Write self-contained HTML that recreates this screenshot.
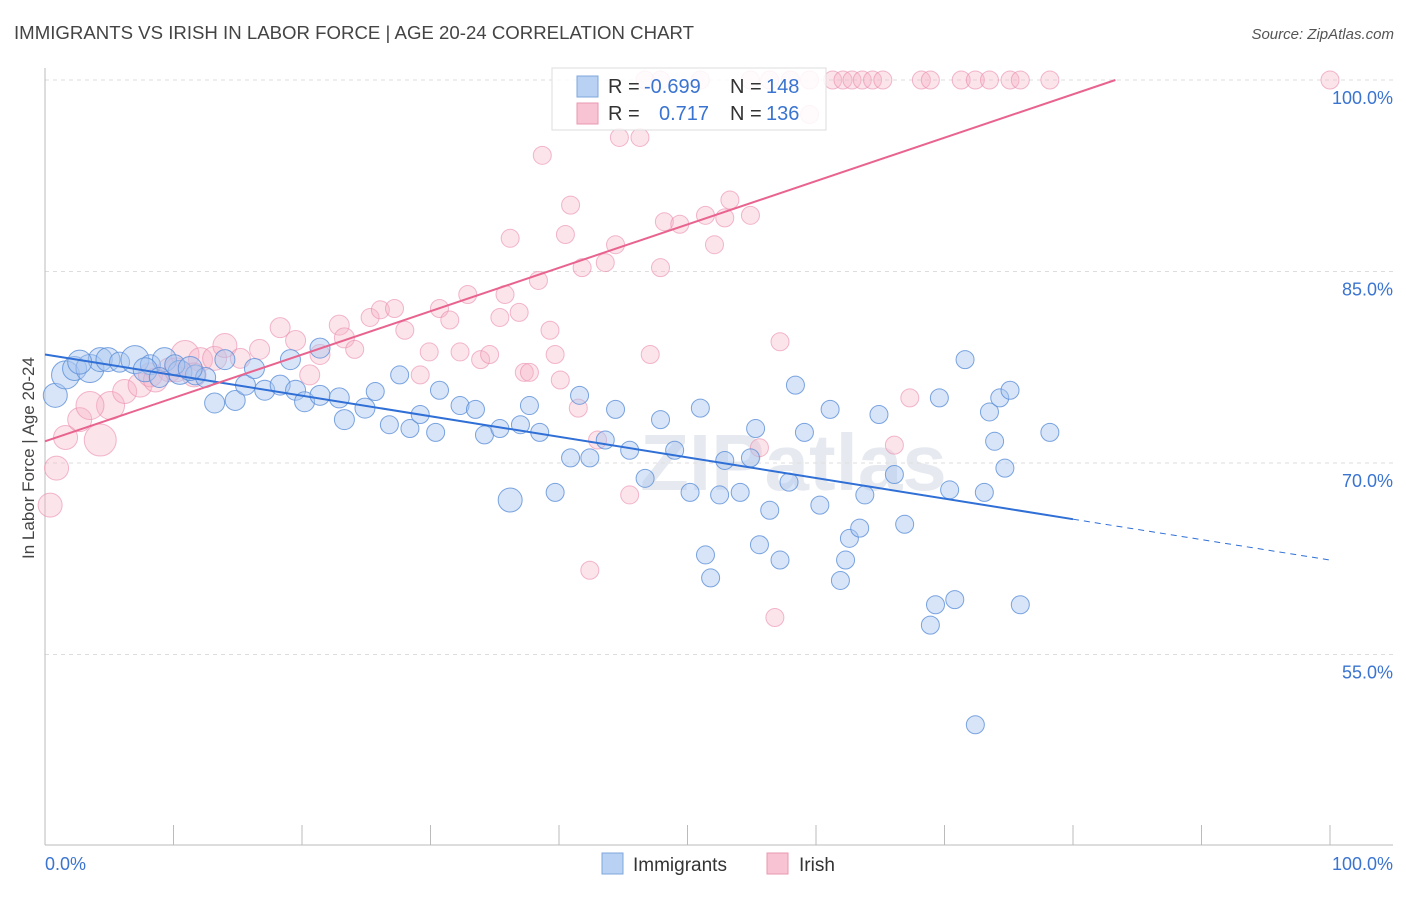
<!DOCTYPE html>
<html><head><meta charset="utf-8"><style>
body{margin:0;background:#fff;font-family:"Liberation Sans",sans-serif}
</style></head><body>
<svg id="chart" width="1406" height="892" xmlns="http://www.w3.org/2000/svg">
<text x="14" y="39" font-size="18.5" fill="#444" textLength="680" lengthAdjust="spacingAndGlyphs">IMMIGRANTS VS IRISH IN LABOR FORCE | AGE 20-24 CORRELATION CHART</text>
<text x="1394" y="39" font-size="15" fill="#555" font-style="italic" text-anchor="end">Source: ZipAtlas.com</text>
<text x="34" y="458" font-size="17" fill="#444" text-anchor="middle" transform="rotate(-90 34 458)">In Labor Force | Age 20-24</text>
<text x="640" y="490" font-size="80" fill="#e6eaf0" font-weight="bold">ZIPatlas</text>
<g id="grid"></g><g id="pts"></g><g id="lines"></g>
<g>
<rect x="552" y="68" width="274" height="62" fill="#fff" fill-opacity="0.85" stroke="#ddd"/>
<rect x="577" y="76" width="21" height="21" fill="#b9d1f3" stroke="#7fa6dd"/>
<rect x="577" y="103" width="21" height="21" fill="#f8c4d3" stroke="#ea98b2"/>
<text x="608" y="93" font-size="20" fill="#333">R =</text>
<text x="644" y="93" font-size="20" fill="#3a74d0">-0.699</text>
<text x="730" y="93" font-size="20" fill="#333">N =</text>
<text x="766" y="93" font-size="20" fill="#3a74d0">148</text>
<text x="608" y="120" font-size="20" fill="#333">R =</text>
<text x="659" y="120" font-size="20" fill="#3a74d0">0.717</text>
<text x="730" y="120" font-size="20" fill="#333">N =</text>
<text x="766" y="120" font-size="20" fill="#3a74d0">136</text>
</g>
<g>
<rect x="602" y="853" width="21" height="21" fill="#b9d1f3" stroke="#7fa6dd"/>
<text x="633" y="871" font-size="19" fill="#333">Immigrants</text>
<rect x="767" y="853" width="21" height="21" fill="#f8c4d3" stroke="#ea98b2"/>
<text x="799" y="871" font-size="19" fill="#333">Irish</text>
</g>
</svg>
<script>
const yTicks=[100,85,70,55];
const xTickLabels=["0.0%","100.0%"];
const blueX=[0.8,1.6,2.3,3.5,4.3,4.9,5.8,7.0,8.2,9.3,10.5,11.7,12.5,13.2,14.8,15.6,17.1,18.3,19.5,20.2,21.4,22.9,23.3,24.9,25.7,26.8,27.6,28.4,29.2,30.4,30.7,32.3,33.5,34.2,35.4,36.2,37.0,37.7,38.5,39.7,40.9,41.6,42.4,43.6,44.4,45.5,46.7,47.9,49.0,50.2,51.0,51.4,51.8,52.5,52.9,54.1,54.9,55.3,55.6,56.4,57.2,57.9,58.4,59.1,60.3,61.1,61.9,62.3,62.6,63.4,63.8,64.9,66.1,66.9,68.9,69.3,69.6,70.4,70.8,71.6,72.4,73.1,73.5,73.9,74.3,74.7,75.1,75.9,78.2,7.8,8.9,10.1,11.3,14.0,16.3,19.1,21.4,2.7];
const blueY=[75.3,76.9,77.4,77.4,78.1,78.1,77.9,78.1,77.7,78.1,77.1,76.9,76.7,74.7,74.9,76.1,75.7,76.1,75.7,74.8,75.3,75.1,73.4,74.3,75.6,73.0,76.9,72.7,73.8,72.4,75.7,74.5,74.2,72.2,72.7,67.1,73.0,74.5,72.4,67.7,70.4,75.3,70.4,71.8,74.2,71.0,68.8,73.4,71.0,67.7,74.3,62.8,61.0,67.5,70.2,67.7,70.4,72.7,63.6,66.3,62.4,68.5,76.1,72.4,66.7,74.2,60.8,62.4,64.1,64.9,67.5,73.8,69.1,65.2,57.3,58.9,75.1,67.9,59.3,78.1,49.5,67.7,74.0,71.7,75.1,69.6,75.7,58.9,72.4,77.3,76.7,77.7,77.4,78.1,77.4,78.1,79.0,77.9];
const blueR=[12,14,12,14,12,12,10,14,10,12,12,10,10,10,10,10,10,10,10,10,10,10,10,10,9,9,9,9,9,9,9,9,9,9,9,12,9,9,9,9,9,9,9,9,9,9,9,9,9,9,9,9,9,9,9,9,9,9,9,9,9,9,9,9,9,9,9,9,9,9,9,9,9,9,9,9,9,9,9,9,9,9,9,9,9,9,9,9,9,12,10,10,12,10,10,10,10,12];
const pinkX=[0.4,0.9,1.6,2.7,4.3,5.1,6.2,7.4,8.2,9.7,10.9,12.1,13.2,14.0,15.2,16.7,18.3,19.5,20.6,21.4,22.9,23.3,24.1,25.3,26.1,27.2,28.0,29.2,29.9,30.7,31.5,32.3,32.9,33.9,34.6,35.4,35.8,36.2,36.9,37.3,37.7,38.4,38.7,39.3,39.7,40.1,40.5,40.9,41.5,41.8,42.4,43.0,43.6,44.4,44.7,45.5,46.3,47.1,47.9,48.2,49.4,51.4,52.1,52.9,53.3,54.9,55.6,56.8,57.2,59.5,66.1,67.3,46.7,47.9,51.0,54.9,56.4,58.0,59.5,61.3,62.1,62.8,63.6,64.4,65.2,68.2,68.9,71.3,72.4,73.5,75.1,75.9,78.2,100,8.6,10.2,11.6,3.5];
const pinkY=[66.7,69.6,72.0,73.4,71.8,74.5,75.6,76.1,76.9,77.3,78.5,78.1,78.2,79.2,78.2,78.9,80.6,79.6,76.9,78.5,80.8,79.8,78.9,81.4,82.0,82.1,80.4,76.9,78.7,82.1,81.2,78.7,83.2,78.1,78.5,81.4,83.2,87.6,81.8,77.1,77.1,84.3,94.1,80.4,78.5,76.5,87.9,90.2,74.3,85.3,61.6,71.8,85.7,87.1,95.5,67.5,95.5,78.5,85.3,88.9,88.7,89.4,87.1,89.2,90.6,89.4,71.2,57.9,79.5,97.3,71.4,75.1,100,100,100,100,100,100,100,100,100,100,100,100,100,100,100,100,100,100,100,100,100,100,76.5,77.3,76.9,74.5];
const pinkR=[12,12,12,12,16,14,12,12,12,12,14,12,12,12,10,10,10,10,10,10,10,10,9,9,9,9,9,9,9,9,9,9,9,9,9,9,9,9,9,9,9,9,9,9,9,9,9,9,9,9,9,9,9,9,9,9,9,9,9,9,9,9,9,9,9,9,9,9,9,9,9,9,9,9,9,9,9,9,9,9,9,9,9,9,9,9,9,9,9,9,9,9,9,9,12,12,12,14];
const blueTrend=[[0,78.5],[80,65.6],[100,62.4]];
const pinkTrend=[[0,71.7],[83.3,100]];
const NS="http://www.w3.org/2000/svg";
const sx=v=>45+v*12.85, sy=v=>80+(100-v)*12.767;
function mk(t,a,p){const e=document.createElementNS(NS,t);for(const k in a)e.setAttribute(k,a[k]);p.appendChild(e);return e;}
const grid=document.getElementById('grid'),pts=document.getElementById('pts'),lines=document.getElementById('lines');
yTicks.forEach(v=>{
 const l=mk('line',{x1:45,x2:1393,y1:sy(v),y2:sy(v),stroke:'#ddd','stroke-dasharray':'4,4'},grid);
 
 
 const t=mk('text',{x:1393,y:sy(v)+24,'font-size':18,fill:'#3a74d0','text-anchor':'end'},grid);t.textContent=v.toFixed(1)+'%';
 
 
});
mk('line',{x1:45,x2:45,y1:68,y2:845,stroke:'#bbb'},grid);
mk('line',{x1:45,x2:1393,y1:845,y2:845,stroke:'#bbb'},grid);
for(let i=0;i<=10;i++)mk('line',{x1:sx(i*10),x2:sx(i*10),y1:825,y2:845,stroke:'#bbb'},grid);
[[0,'start',45],[1,'end',1393]].forEach(([i,a,x])=>{const t=mk('text',{x:x,y:870,'font-size':18,fill:'#3a74d0','text-anchor':a},grid);t.textContent=xTickLabels[i];
 
 });
pinkX.forEach((x,i)=>{const c=mk('circle',{cx:sx(x),cy:sy(pinkY[i]),r:pinkR[i],fill:'#f6b3c7','fill-opacity':0.35,stroke:'#e98bab','stroke-opacity':0.6},pts);
 
 });
blueX.forEach((x,i)=>{const c=mk('circle',{cx:sx(x),cy:sy(blueY[i]),r:blueR[i],fill:'#a9c6ef','fill-opacity':0.45,stroke:'#5b8fd8','stroke-opacity':0.8},pts);
 
 });
let b=mk('line',{x1:sx(blueTrend[0][0]),y1:sy(blueTrend[0][1]),x2:sx(blueTrend[1][0]),y2:sy(blueTrend[1][1]),stroke:'#2f6fd6','stroke-width':2},lines);


let bd=mk('line',{x1:sx(blueTrend[1][0]),y1:sy(blueTrend[1][1]),x2:sx(blueTrend[2][0]),y2:sy(blueTrend[2][1]),stroke:'#2f6fd6','stroke-width':1,'stroke-dasharray':'6,5'},lines);


let p=mk('line',{x1:sx(pinkTrend[0][0]),y1:sy(pinkTrend[0][1]),x2:sx(pinkTrend[1][0]),y2:sy(pinkTrend[1][1]),stroke:'#e8648f','stroke-width':2},lines);


</script>
</body></html>
